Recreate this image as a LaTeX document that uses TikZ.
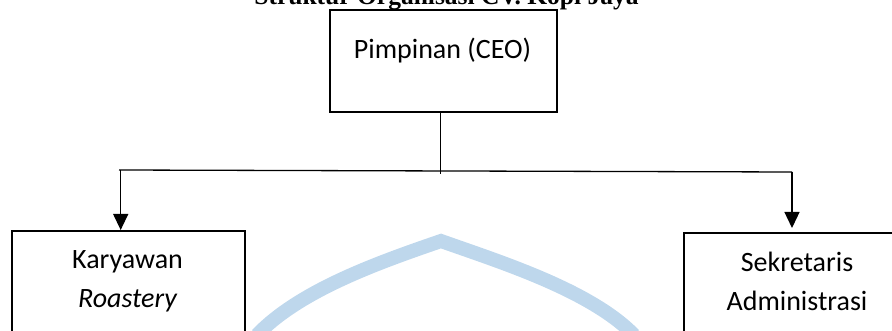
\documentclass[tikz,border=0pt]{standalone}
\usepackage{fontspec}
\setmainfont{Carlito}
\newfontfamily\titlefont{Liberation Serif}
\usetikzlibrary{arrows.meta}
\definecolor{wm}{RGB}{190,215,236}
\begin{document}
\begin{tikzpicture}[x=1pt,y=-1pt,
  box/.style={draw=black, line width=2pt, inner sep=0pt, anchor=north west},
  lbl/.style={font=\fontsize{28}{39}\selectfont, anchor=base, inner sep=0pt},
  conn/.style={line width=1.3pt, draw=black},
  arr/.style={conn, -{Triangle[length=16pt,width=15pt]}}]
\useasboundingbox (0,0) rectangle (892,331);
\clip (0,0) rectangle (892,331);
% watermark
\draw[line width=14pt, color=wm] (257,335) .. controls (300,290) and (380,262) .. (441,241) .. controls (500,262) and (590,290) .. (634,335);
% title (cut off at top)
\node[anchor=base, font=\titlefont\bfseries\fontsize{25.5}{30}\selectfont, inner sep=0pt] (title) at (446.5,5) {Struktur Organisasi CV. Kopi Jaya};
% boxes
\node[box, minimum width=227pt, minimum height=102pt] (ceo) at (329,9) {};
\node[lbl] (ceot) at (442.5,59) {Pimpinan (CEO)};
\node[box, minimum width=233pt, minimum height=140pt] (kary) at (11,230) {};
\node[lbl] (kt1) at (127.5,269) {Karyawan};
\node[lbl] (kt2) at (127.5,308) {\itshape Roastery};
\node[box, minimum width=228pt, minimum height=140pt] (sek) at (683,232) {};
\node[lbl] (st1) at (797,272) {Sekretaris};
\node[lbl] (st2) at (797,310) {Administrasi};
% connectors
\coordinate (jn) at (440.7,174);
\coordinate (hl) at (119,170);
\coordinate (hr) at (792,172);
\coordinate (al) at (120.7,170);
\draw[conn] (jn |- ceo.south) -- (jn);
\draw[conn] (hl) -- (hr);
\draw[arr] (al) -- (al |- kary.north);
\draw[arr] (hr) -- ([yshift=4pt]hr |- sek.north);
\end{tikzpicture}
\end{document}
